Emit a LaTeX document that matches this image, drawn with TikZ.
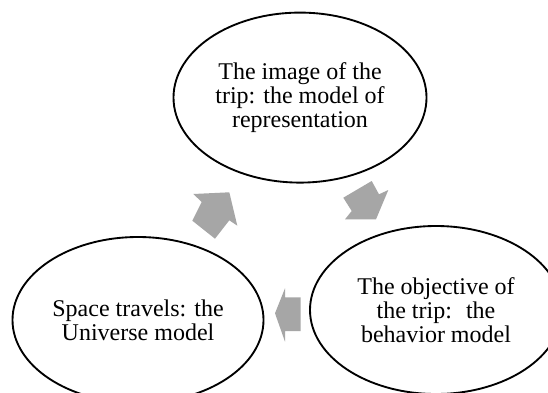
\documentclass[tikz,border=0pt]{standalone}
\usepackage{fontspec}
\setmainfont{Liberation Serif}
\usetikzlibrary{shapes.geometric}
\definecolor{arrowgray}{RGB}{166,166,166}
\begin{document}
\begin{tikzpicture}[x=0.75pt,y=-0.75pt,
  bubble/.style={ellipse, draw=black, line width=1.4pt, inner sep=0pt, align=center,
    font=\fontsize{18}{18.2}\selectfont},
  arrowshape/.style={fill=arrowgray, draw=none}]
\fill[white] (0,0) rectangle (548,392);
\clip (0,0) rectangle (548,392);
% ellipses
\node[bubble, minimum width=189.75pt, minimum height=127.5pt] (image) at (300,97.6)
  {The image of the\\trip: the model of\\representation};
\node[bubble, minimum width=189pt, minimum height=126pt] (objective) at (436,310)
  {The objective of\\the trip:~ the\\behavior model};
\node[bubble, minimum width=188.25pt, minimum height=124.5pt] (space) at (138,320)
  {Space travels: the\\Universe model};
% cycle arrows
\fill[arrowshape] (193.3,194) -- (229.3,192.3) -- (237.3,225.7) -- (229.3,220.3)
  -- (215,238.7) -- (192.3,220.7) -- (201.7,202) -- cycle;
\fill[arrowshape] (343.3,197.7) -- (371.7,181) -- (379,194.3) -- (388.3,190)
  -- (376,219.3) -- (345,219.3) -- (351.7,211) -- cycle;
\fill[arrowshape] (275,313.3) -- (285,288.3) -- (285,297.3) -- (300.7,297.3)
  -- (300.7,331) -- (285,331) -- (285,341.7) -- cycle;
\end{tikzpicture}
\end{document}
